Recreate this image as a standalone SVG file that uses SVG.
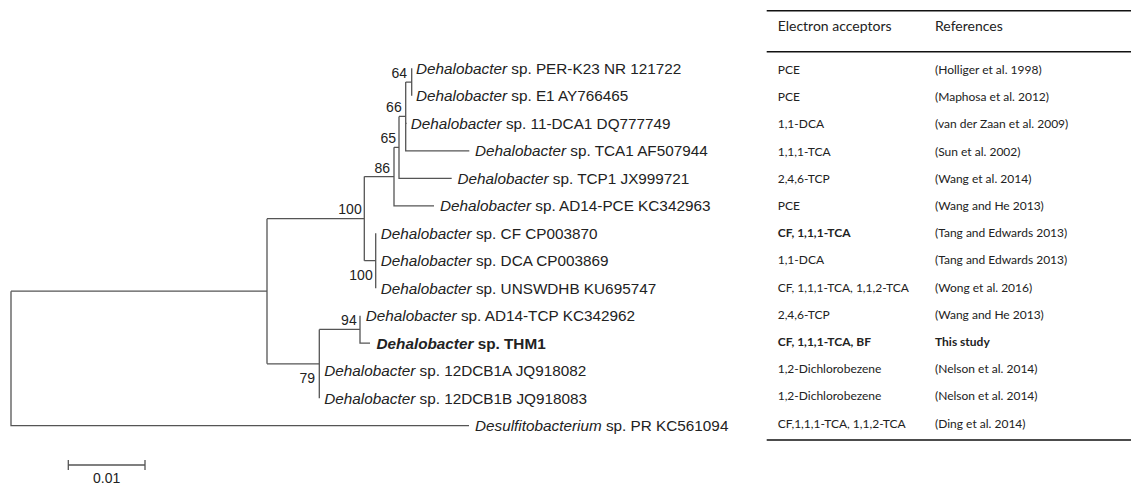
<svg xmlns="http://www.w3.org/2000/svg" width="1133" height="484" viewBox="0 0 1133 484">
<style>
.br{stroke:#555;stroke-width:1.3;fill:none}
.lf{font-family:"Liberation Sans",Arial,sans-serif;font-size:15.3px;fill:#222}
.bs{font-family:"Liberation Sans",Arial,sans-serif;font-size:14px;fill:#222;text-anchor:end}
.tb{font-family:Lato,"Liberation Sans",sans-serif;font-size:12px;fill:#222}
.th{font-family:Lato,"Liberation Sans",sans-serif;font-size:14px;fill:#222}
.rule{stroke:#111;stroke-width:1.5}
</style>
<rect width="1133" height="484" fill="#fff"/>
<g id="connectors">
<path class="br" d="M11,291.2V425.7H469"/>
<path class="br" d="M11,291.2H267M267,218.65V363.8"/>
<path class="br" d="M267,218.65H364.3M364.3,176.6V260.7"/>
<path class="br" d="M364.3,176.6H394M394,147.35V205.8H434"/>
<path class="br" d="M394,147.35H399M399,116.4V178.3H451.7"/>
<path class="br" d="M399,116.4H405.7M405.7,82.05V150.8H469.3M405.7,123.3H406.7"/>
<path class="br" d="M405.7,82.05H411.7M411.7,68.3V95.8"/>
<path class="br" d="M364.3,260.7H375.7M375.7,233.2V288.2"/>
<path class="br" d="M267,363.8H319.3M319.3,329.45V398.2"/>
<path class="br" d="M319.3,329.45H360M360,315.7V343.2H370"/>
<path class="br" d="M68.3,465H145M68.3,460V470M145,460V470"/>
</g>
<g id="bootstrap">
<text class="bs" x="407" y="78">64</text>
<text class="bs" x="401.7" y="112">66</text>
<text class="bs" x="396" y="143">65</text>
<text class="bs" x="390" y="173">86</text>
<text class="bs" x="361.7" y="214">100</text>
<text class="bs" x="372.7" y="280">100</text>
<text class="bs" x="356.7" y="325">94</text>
<text class="bs" x="315" y="383">79</text>
</g>
<g id="leaf-PER-K23"><text class="lf" x="416" y="73.8"><tspan font-style="italic">Dehalobacter</tspan> sp. PER-K23 NR 121722</text></g>
<g id="leaf-E1"><text class="lf" x="416" y="101.3"><tspan font-style="italic">Dehalobacter</tspan> sp. E1 AY766465</text></g>
<g id="leaf-11-DCA1"><text class="lf" x="410.7" y="128.8"><tspan font-style="italic">Dehalobacter</tspan> sp. 11-DCA1 DQ777749</text></g>
<g id="leaf-TCA1"><text class="lf" x="475" y="156.3"><tspan font-style="italic">Dehalobacter</tspan> sp. TCA1 AF507944</text></g>
<g id="leaf-TCP1"><text class="lf" x="457.5" y="183.8"><tspan font-style="italic">Dehalobacter</tspan> sp. TCP1 JX999721</text></g>
<g id="leaf-AD14-PCE"><text class="lf" x="440" y="211.3"><tspan font-style="italic">Dehalobacter</tspan> sp. AD14-PCE KC342963</text></g>
<g id="leaf-CF"><text class="lf" x="380.7" y="238.7"><tspan font-style="italic">Dehalobacter</tspan> sp. CF CP003870</text></g>
<g id="leaf-DCA"><text class="lf" x="380.7" y="266.2"><tspan font-style="italic">Dehalobacter</tspan> sp. DCA CP003869</text></g>
<g id="leaf-UNSWDHB"><text class="lf" x="380.7" y="293.7"><tspan font-style="italic">Dehalobacter</tspan> sp. UNSWDHB KU695747</text></g>
<g id="leaf-AD14-TCP"><text class="lf" x="365.7" y="321.2"><tspan font-style="italic">Dehalobacter</tspan> sp. AD14-TCP KC342962</text></g>
<g id="leaf-THM1"><text class="lf" x="376.5" y="348.7" font-weight="bold"><tspan font-style="italic">Dehalobacter</tspan> sp. THM1</text></g>
<g id="leaf-12DCB1A"><text class="lf" x="324.3" y="376.2"><tspan font-style="italic">Dehalobacter</tspan> sp. 12DCB1A JQ918082</text></g>
<g id="leaf-12DCB1B"><text class="lf" x="324.3" y="403.7"><tspan font-style="italic">Dehalobacter</tspan> sp. 12DCB1B JQ918083</text></g>
<g id="leaf-Desulfitobacterium"><text class="lf" x="475" y="431.2"><tspan font-style="italic">Desulfitobacterium</tspan> sp. PR KC561094</text></g>
<g id="scale-label"><text class="bs" x="106.7" y="483" style="text-anchor:middle">0.01</text></g>
<g id="table">
<line class="rule" x1="766.7" y1="10.7" x2="1131" y2="10.7"/>
<line class="rule" x1="766.7" y1="51.7" x2="1131" y2="51.7"/>
<line class="rule" x1="766.7" y1="440" x2="1131" y2="440"/>
<text class="th" x="777.7" y="31">Electron acceptors</text>
<text class="th" x="935" y="31">References</text>
<text class="tb" x="777.7" y="74">PCE</text><text class="tb" x="935" y="74">(Holliger et al. 1998)</text>
<text class="tb" x="777.7" y="101.2">PCE</text><text class="tb" x="935" y="101.2">(Maphosa et al. 2012)</text>
<text class="tb" x="777.7" y="128.4">1,1-DCA</text><text class="tb" x="935" y="128.4">(van der Zaan et al. 2009)</text>
<text class="tb" x="777.7" y="155.6">1,1,1-TCA</text><text class="tb" x="935" y="155.6">(Sun et al. 2002)</text>
<text class="tb" x="777.7" y="182.8">2,4,6-TCP</text><text class="tb" x="935" y="182.8">(Wang et al. 2014)</text>
<text class="tb" x="777.7" y="210">PCE</text><text class="tb" x="935" y="210">(Wang and He 2013)</text>
<text class="tb" x="777.7" y="237.2" font-weight="bold">CF, 1,1,1-TCA</text><text class="tb" x="935" y="237.2">(Tang and Edwards 2013)</text>
<text class="tb" x="777.7" y="264.4">1,1-DCA</text><text class="tb" x="935" y="264.4">(Tang and Edwards 2013)</text>
<text class="tb" x="777.7" y="291.6">CF, 1,1,1-TCA, 1,1,2-TCA</text><text class="tb" x="935" y="291.6">(Wong et al. 2016)</text>
<text class="tb" x="777.7" y="318.8">2,4,6-TCP</text><text class="tb" x="935" y="318.8">(Wang and He 2013)</text>
<text class="tb" x="777.7" y="346" font-weight="bold">CF, 1,1,1-TCA, BF</text><text class="tb" x="935" y="346" font-weight="bold">This study</text>
<text class="tb" x="777.7" y="373.2">1,2-Dichlorobezene</text><text class="tb" x="935" y="373.2">(Nelson et al. 2014)</text>
<text class="tb" x="777.7" y="400.4">1,2-Dichlorobezene</text><text class="tb" x="935" y="400.4">(Nelson et al. 2014)</text>
<text class="tb" x="777.7" y="427.6">CF,1,1,1-TCA, 1,1,2-TCA</text><text class="tb" x="935" y="427.6">(Ding et al. 2014)</text>
</g>
</svg>
